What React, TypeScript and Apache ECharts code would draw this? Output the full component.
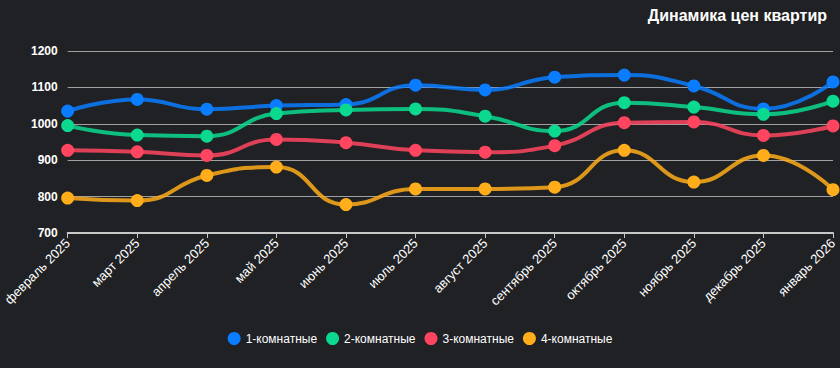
import React, { useEffect, useRef } from "react";
import * as echarts from "echarts";

const categories = [
  "февраль 2025", "март 2025", "апрель 2025", "май 2025", "июнь 2025", "июль 2025",
  "август 2025", "сентябрь 2025", "октябрь 2025", "ноябрь 2025", "декабрь 2025", "январь 2026",
];
const room1 = [1035, 1067, 1040, 1050, 1053, 1106, 1093, 1128, 1134, 1104, 1041, 1115];
const room2 = [995, 969, 966, 1028, 1038, 1041, 1021, 980, 1058, 1046, 1026, 1062];
const room3 = [927, 923, 913, 957, 948, 927, 922, 940, 1003, 1005, 968, 994];
const room4 = [796, 789, 858, 881, 778, 821, 821, 826, 927, 840, 913, 819];
const seriesNames = ["1-комнатные", "2-комнатные", "3-комнатные", "4-комнатные"];
const colors = ["#0a7cff", "#0ad98f", "#ff4560", "#ffad1a"];

export default function App() {
  const ref = useRef<HTMLDivElement>(null);
  useEffect(() => {
    document.body.style.margin = "0";
    document.body.style.background = "#202124";
    if (!ref.current) return;
    const chart = echarts.init(ref.current, undefined, { renderer: "svg" });
    const data = [room1, room2, room3, room4];
    chart.setOption({
      animation: false,
      backgroundColor: "#202124",
      color: colors,
      textStyle: { fontFamily: "Liberation Sans, Arial, sans-serif" },
      title: {
        text: "Динамика цен квартир",
        right: 8,
        top: 2,
        textStyle: { color: "#ffffff", fontSize: 16, fontWeight: "bold" },
      },
      legend: {
        bottom: 18,
        left: "center",
        icon: "circle",
        itemWidth: 13,
        itemHeight: 13,
        itemGap: 9,
        textStyle: { color: "#ffffff", fontSize: 12 },
        data: seriesNames,
      },
      grid: { left: 54, right: 7, top: 51, bottom: 135 },
      xAxis: {
        type: "category",
        data: categories,
        boundaryGap: false,
        axisLine: { lineStyle: { color: "#c8c8c8", width: 2 } },
        axisTick: { lineStyle: { color: "#c8c8c8" } },
        axisLabel: { color: "#ffffff", fontSize: 13, rotate: 45, interval: 0 },
      },
      yAxis: {
        type: "value",
        min: 700,
        max: 1200,
        interval: 100,
        axisLine: { show: false },
        axisTick: { show: false },
        axisLabel: {
          color: "#ffffff",
          fontSize: 12,
          fontWeight: "bold",
          margin: 10,
          formatter: (v: number) => String(v),
        },
        splitLine: { lineStyle: { color: "#a0a0a0", width: 1 } },
      },
      series: data.map((d, i) => ({
        name: seriesNames[i],
        type: "line",
        data: d,
        smooth: true,
        symbol: "circle",
        symbolSize: 13,
        lineStyle: { width: 4, opacity: 0.85 },
        itemStyle: { color: colors[i] },
      })),
    });
    return () => chart.dispose();
  }, []);
  return <div ref={ref} style={{ width: 840, height: 368 }} />;
}
